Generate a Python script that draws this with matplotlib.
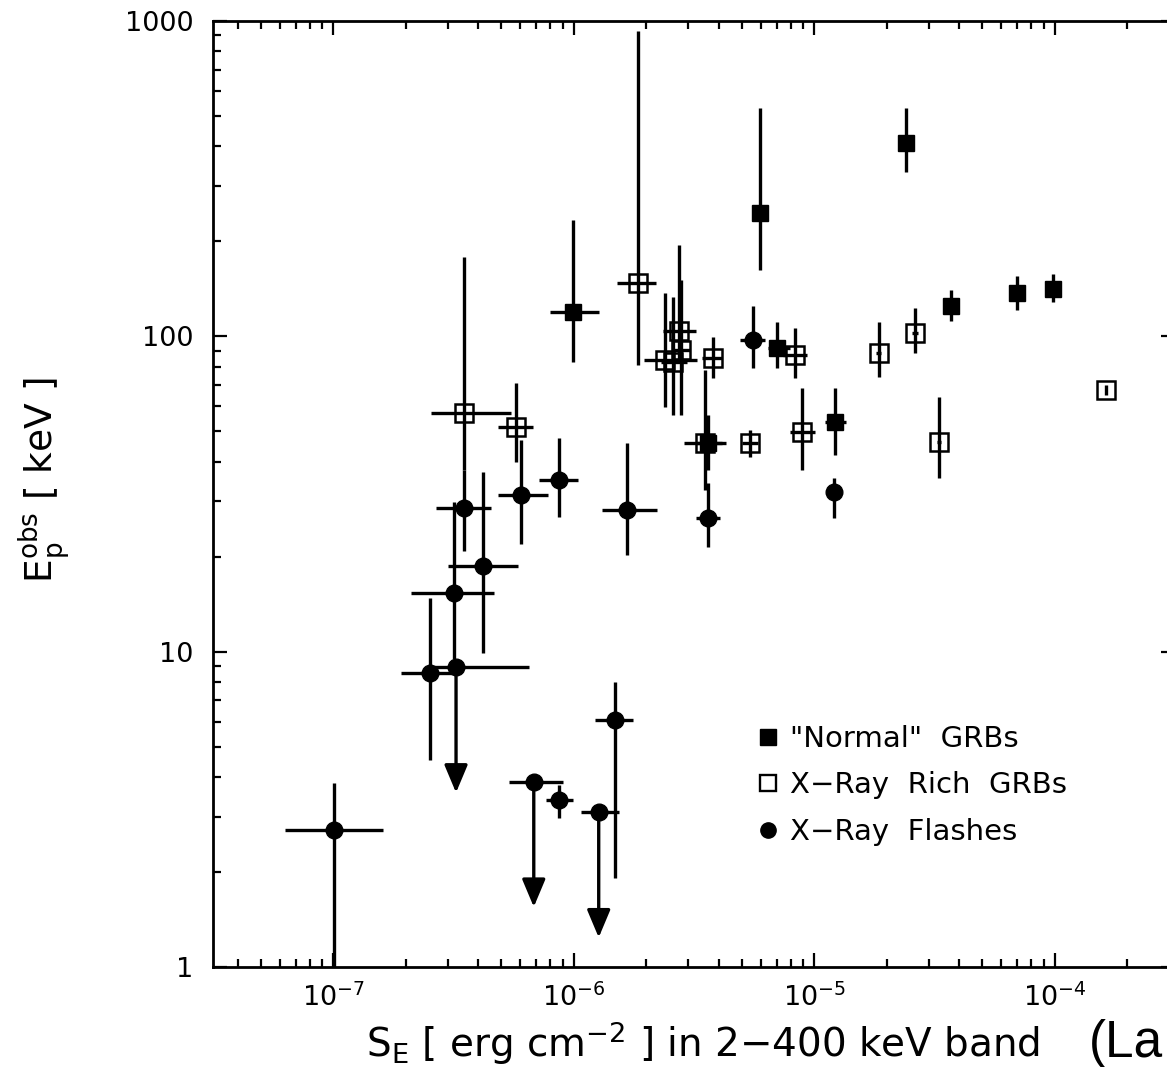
import numpy as np
import matplotlib
matplotlib.use("Agg")
import matplotlib.pyplot as plt
from matplotlib.lines import Line2D

plt.rcParams['font.family'] = ['DejaVu Sans']
plt.rcParams['mathtext.default'] = 'regular'

# ---------------- data ----------------
# "Normal" GRBs (filled squares)
norm_x    = [0.99e-6, 5.97e-6, 2.41e-5, 3.70e-5, 7.0e-5, 9.8e-5, 7.02e-6, 1.22e-5, 3.63e-6]
norm_x_lo = [8.0e-7, 5.53e-6, 2.36e-5, 3.62e-5, 6.85e-5, 9.6e-5, 6.44e-6, 1.11e-5, 3.21e-6]
norm_x_hi = [1.27e-6, 6.44e-6, 2.46e-5, 3.78e-5, 7.15e-5, 1.0e-4, 7.94e-6, 1.35e-5, 4.15e-6]
norm_y    = [119, 245, 409, 125, 137, 141, 91.6, 53.3, 45.8]
norm_y_lo = [82.8, 162, 331, 112, 121, 128, 79.0, 42.0, 37.6]
norm_y_hi = [233, 528, 528, 140, 155, 157, 111, 68.4, 56.1]

# X-Ray Rich GRBs (open squares)
xrr_x    = [3.50e-7, 5.74e-7, 1.85e-6, 2.73e-6, 2.78e-6, 2.39e-6, 2.58e-6, 3.78e-6,
            8.34e-6, 5.42e-6, 8.91e-6, 1.85e-5, 2.62e-5, 3.30e-5, 1.63e-4, 3.53e-6]
xrr_x_lo = [2.55e-7, 4.84e-7, 1.52e-6, 2.34e-6, 2.55e-6, 1.95e-6, 2.30e-6, 3.43e-6,
            7.43e-6, 5.02e-6, 7.94e-6, 1.80e-5, 2.55e-5, 3.25e-5, 1.63e-4, 2.86e-6]
xrr_x_hi = [5.48e-7, 6.76e-7, 2.19e-6, 3.21e-6, 3.05e-6, 3.27e-6, 2.95e-6, 4.15e-6,
            9.35e-6, 5.86e-6, 1.01e-5, 1.90e-5, 2.70e-5, 3.35e-5, 1.63e-4, 4.28e-6]
xrr_y    = [57.0, 51.4, 147, 104, 90.3, 84.0, 82.7, 85.1, 87.0, 45.8, 49.6, 88.3, 102, 46.1, 67.4, 45.8]
xrr_y_lo = [37.6, 39.8, 80.9, 82.6, 56.1, 59.6, 56.1, 73.6, 73.6, 41.3, 37.6, 74.1, 88.3, 35.5, 65.0, 32.5]
xrr_y_hi = [178, 71.0, 930, 194, 151, 137, 133, 99.3, 106, 50.3, 68.4, 111, 123, 64.1, 70.0, 78.0]

# X-Ray Flashes (filled circles); upper limits have an arrow down to xrf_tip
xrf_x    = [1.01e-7, 2.52e-7, 3.24e-7, 3.18e-7, 3.50e-7, 4.19e-7, 6.03e-7, 8.67e-7,
            1.67e-6, 3.63e-6, 6.82e-7, 8.67e-7, 1.27e-6, 1.49e-6, 1.21e-5, 5.58e-6]
xrf_x_lo = [6.32e-8, 1.91e-7, 2.55e-7, 2.11e-7, 2.67e-7, 3.00e-7, 4.84e-7, 7.16e-7,
            1.31e-6, 3.21e-6, 5.37e-7, 7.66e-7, 1.07e-6, 1.23e-6, 1.19e-5, 4.93e-6]
xrf_x_hi = [1.61e-7, 3.24e-7, 6.50e-7, 4.66e-7, 4.53e-7, 5.86e-7, 7.80e-7, 1.04e-6,
            2.21e-6, 4.07e-6, 8.99e-7, 9.90e-7, 1.54e-6, 1.77e-6, 1.23e-5, 6.27e-6]
xrf_y    = [2.71, 8.53, 8.91, 15.3, 28.5, 18.7, 31.3, 34.9, 28.1, 26.5, 3.85, 3.38, 3.09, 6.05, 32.0, 97.1]
xrf_y_lo = [0.9, 4.52, 8.91, 9.5, 20.9, 9.88, 22.0, 26.7, 20.2, 21.4, 3.85, 2.96, 3.09, 1.91, 26.5, 79.2]
xrf_y_hi = [3.82, 14.8, 8.91, 29.7, 37.6, 37.0, 46.8, 47.4, 45.7, 34.2, 3.85, 3.77, 3.09, 8.0, 35.5, 125]
xrf_upper_limit = [False, False, True, False, False, False, False, False,
                   False, False, True, False, True, False, False, False]
xrf_tip  = [None, None, 3.57, None, None, None, None, None,
            None, None, 1.55, None, 1.24, None, None, None]

legend_labels = ['"Normal"  GRBs', 'X\u2212Ray  Rich  GRBs', 'X\u2212Ray  Flashes']
yticks = [1, 10, 100, 1000]
ytick_labels = ['1', '10', '100', '1000']
xticks = [1e-7, 1e-6, 1e-5, 1e-4]
xtick_labels = [r'$10^{-7}$', r'$10^{-6}$', r'$10^{-5}$', r'$10^{-4}$']
xlabel = 'S$_{E}$ [ erg cm$^{-2}$ ] in 2\u2212400 keV band'
ylabel = 'E$_p^{obs}$ [ keV ]'
side_text = '(La'

# ---------------- figure ----------------
W, H = 1167, 1067
fig = plt.figure(figsize=(W / 100, H / 100), dpi=100)
ax = fig.add_axes([213 / W, 100 / H, 962 / W, 946.3 / H])
ax.set_xscale('log')
ax.set_yscale('log')
ax.set_xlim(10 ** -7.5, 10 ** -3.5)
ax.set_ylim(1, 1000)


def errs(v, lo, hi):
    v = np.asarray(v, float)
    return np.vstack([v - np.asarray(lo, float), np.asarray(hi, float) - v])


elw = 2.4
ax.errorbar(norm_x, norm_y, xerr=errs(norm_x, norm_x_lo, norm_x_hi),
            yerr=errs(norm_y, norm_y_lo, norm_y_hi), fmt='s', color='black',
            ms=11, elinewidth=elw, capsize=0, zorder=3)
ax.errorbar(xrr_x, xrr_y, xerr=errs(xrr_x, xrr_x_lo, xrr_x_hi),
            yerr=errs(xrr_y, xrr_y_lo, xrr_y_hi), fmt='s', color='black',
            mfc='none', ms=13, mew=1.8,
            elinewidth=elw, capsize=0, zorder=3)
ax.errorbar(xrf_x, xrf_y, xerr=errs(xrf_x, xrf_x_lo, xrf_x_hi),
            yerr=errs(xrf_y, xrf_y_lo, xrf_y_hi), fmt='o', color='black',
            ms=12, elinewidth=elw, capsize=0, zorder=3)
for x, y, ul, tip in zip(xrf_x, xrf_y, xrf_upper_limit, xrf_tip):
    if ul:
        ax.annotate('', xy=(x, tip), xytext=(x, y),
                    arrowprops=dict(arrowstyle='-|>,head_length=1.0,head_width=0.42',
                                    mutation_scale=17, lw=elw, color='black',
                                    shrinkA=0, shrinkB=0), zorder=3)

# ticks
ax.set_xticks(xticks, labels=xtick_labels)
ax.set_yticks(yticks, labels=ytick_labels)
ax.tick_params(which='both', direction='in', top=True, right=True, width=1.6,
               labelsize=19.5)
ax.tick_params(which='major', length=10)
ax.tick_params(which='minor', length=5.5)
ax.tick_params(axis='y', pad=14)
ax.tick_params(axis='x', pad=12)
for s in ax.spines.values():
    s.set_linewidth(2.0)

# legend (markers only)
handles = [Line2D([], [], ls='none', marker='s', color='black', ms=11),
           Line2D([], [], ls='none', marker='s', color='black', mfc='none', ms=12, mew=1.7),
           Line2D([], [], ls='none', marker='o', color='black', ms=11)]
ax.legend(handles, legend_labels, loc='upper left', bbox_to_anchor=(0.566, 0.256),
          frameon=False, fontsize=21, handlelength=0.75, handletextpad=0.35,
          labelspacing=0.64, borderpad=0, borderaxespad=0)

# axis labels
fig.text(703 / W, 1 - 1057 / H, xlabel, ha='center', va='baseline', fontsize=28)
fig.text(45 / W, 1 - 480 / H, ylabel, rotation=90,
         ha='center', va='center', fontsize=27)
fig.text(1089 / W, 1 - 1057 / H, side_text, ha='left', va='baseline', fontsize=37,
         family='Liberation Sans')

fig.savefig('out.png', dpi=100, facecolor='white')
